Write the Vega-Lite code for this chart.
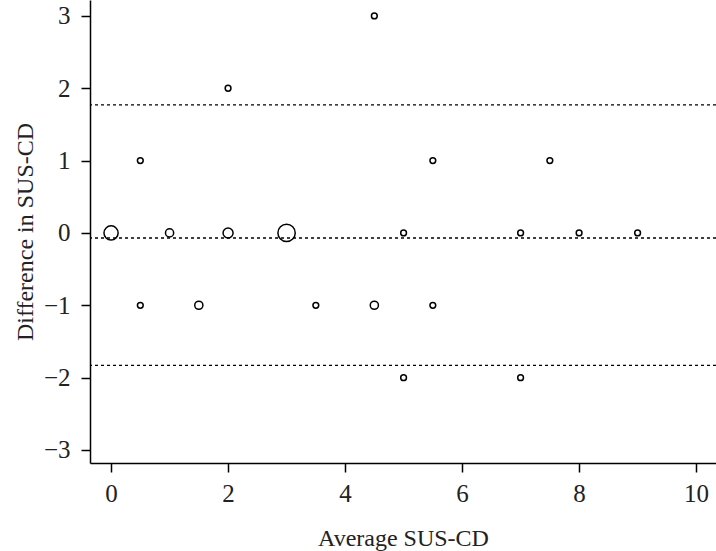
{
  "$schema": "https://vega.github.io/schema/vega-lite/v6.json",
  "autosize": "none",
  "width": 626,
  "height": 463,
  "padding": {"left": 90, "top": 0, "right": 0, "bottom": 88},
  "background": "white",
  "config": {
    "view": {"stroke": null},
    "font": "Liberation Serif",
    "axis": {
      "grid": false,
      "domainColor": "black",
      "domainWidth": 1.5,
      "tickColor": "black",
      "tickWidth": 1.5,
      "tickSize": 9,
      "labelFont": "Liberation Serif",
      "labelFontSize": 25,
      "labelColor": "#222",
      "titleFont": "Liberation Serif",
      "titleFontSize": 24,
      "titleFontWeight": "normal",
      "titleColor": "#222"
    }
  },
  "datasets": {
    "points": [
      {"avg": 0, "diff": 0, "n": 6},
      {"avg": 0.5, "diff": 1, "n": 1},
      {"avg": 0.5, "diff": -1, "n": 1},
      {"avg": 1, "diff": 0, "n": 2},
      {"avg": 1.5, "diff": -1, "n": 2},
      {"avg": 2, "diff": 2, "n": 1},
      {"avg": 2, "diff": 0, "n": 3},
      {"avg": 3, "diff": 0, "n": 9},
      {"avg": 3.5, "diff": -1, "n": 1},
      {"avg": 4.5, "diff": 3, "n": 1},
      {"avg": 4.5, "diff": -1, "n": 2},
      {"avg": 5, "diff": 0, "n": 1},
      {"avg": 5, "diff": -2, "n": 1},
      {"avg": 5.5, "diff": 1, "n": 1},
      {"avg": 5.5, "diff": -1, "n": 1},
      {"avg": 7, "diff": 0, "n": 1},
      {"avg": 7, "diff": -2, "n": 1},
      {"avg": 7.5, "diff": 1, "n": 1},
      {"avg": 8, "diff": 0, "n": 1},
      {"avg": 9, "diff": 0, "n": 1}
    ],
    "lines": [
      {"y": 1.77},
      {"y": -0.07},
      {"y": -1.83}
    ]
  },
  "layer": [
    {
      "data": {"name": "lines"},
      "mark": {"type": "rule", "stroke": "black", "strokeWidth": 1.4, "strokeDash": [3, 3]},
      "encoding": {
        "y": {"field": "y", "type": "quantitative"}
      }
    },
    {
      "data": {"name": "points"},
      "mark": {"type": "point", "shape": "circle", "filled": false, "stroke": "black", "strokeWidth": 1.5, "opacity": 1},
      "encoding": {
        "x": {
          "field": "avg", "type": "quantitative",
          "scale": {"domain": [-0.36, 10.34], "nice": false, "zero": false},
          "axis": {"title": "Average SUS-CD", "values": [0, 2, 4, 6, 8, 10], "format": "d", "labelPadding": 9, "titlePadding": 20}
        },
        "y": {
          "field": "diff", "type": "quantitative",
          "scale": {"domain": [-3.18, 3.22], "nice": false, "zero": false},
          "axis": {"title": "Difference in SUS-CD", "values": [-3, -2, -1, 0, 1, 2, 3], "format": "d", "labelPadding": 11, "titlePadding": 6}
        },
        "size": {
          "field": "n", "type": "quantitative",
          "scale": {"domain": [0, 9], "range": [0, 300]},
          "legend": null
        }
      }
    }
  ]
}
